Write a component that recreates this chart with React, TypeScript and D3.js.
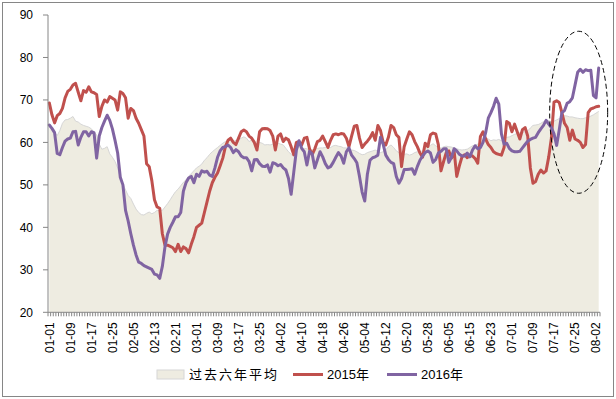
import { useRef, useEffect } from 'react'
import * as d3 from 'd3'

// past six years average (area)
const avgData = [
  64.1, 63.5, 62.5, 61.6, 62.8, 64.5, 65.3, 65.4, 65.7, 66.1,
  65.0, 64.8, 64.3, 64.0, 63.8, 63.6, 63.2, 62.4, 61.8, 59.6,
  58.4, 58.6, 59.0, 57.3, 56.5, 55.5, 54.0, 51.8, 50.2, 48.8,
  47.5, 46.8, 45.5, 44.3, 43.5, 43.0, 42.9, 43.3, 43.6, 43.2,
  43.5, 44.0, 44.1, 44.0, 44.8, 45.6, 46.5, 47.5, 48.4, 49.0,
  49.8, 50.6, 51.2, 52.0, 52.7, 53.3, 54.0, 54.4, 54.9, 55.8,
  56.4, 57.2, 57.8, 58.3, 58.8, 59.3, 59.8, 60.2, 60.5, 60.6,
  60.2, 60.5, 60.6, 61.0, 61.3, 61.0, 60.2, 60.6, 60.0, 59.4,
  60.0, 59.8, 59.4, 59.5, 59.4, 59.6, 59.8, 59.8, 59.6, 59.4,
  58.6, 57.8, 57.2, 56.6, 58.2, 59.0, 58.8, 58.6, 58.5, 58.3,
  58.2, 58.4, 58.6, 58.7, 58.7, 58.8, 59.0, 58.8, 59.2, 59.3,
  59.1, 59.0, 58.7, 58.7, 58.5, 58.2, 58.1, 57.8, 57.4, 57.1,
  57.2, 57.6, 57.8, 58.0, 58.2, 57.9, 57.6, 57.8, 58.2, 59.0,
  59.4, 58.8, 58.0, 57.6, 57.4, 57.2, 57.3, 57.0, 57.2, 57.6,
  57.8, 57.8, 58.0, 58.5, 59.0, 59.3, 59.7, 59.2, 58.8, 58.6,
  59.0, 59.1, 59.0, 58.9, 58.7, 58.5, 58.3, 58.2, 58.3, 58.4,
  58.8, 59.2, 59.4, 59.6, 59.8, 60.5, 61.2, 60.8, 60.4, 60.6,
  60.5, 60.7, 60.4, 60.8, 61.2, 61.3, 61.6, 61.9, 62.1, 62.3,
  62.4, 62.5, 62.7, 63.4, 64.0, 64.1, 64.2, 64.5, 64.9, 65.2,
  65.1, 64.9, 65.0, 65.3, 65.6, 66.0, 66.3, 66.2, 66.0, 66.0,
  65.8, 65.7, 65.6, 65.6, 65.8, 65.9, 66.2, 66.5, 66.9, 67.3
]

const data2015 = [
  69.3, 66.5, 64.6, 66.3, 66.8, 68.0, 70.5, 72.0, 72.5, 73.5,
  73.9, 71.8, 69.8, 72.2, 71.8, 73.1, 71.9, 71.7, 71.3, 66.1,
  68.5, 70.0, 69.5, 70.8, 70.4, 70.0, 67.6, 71.9, 71.5, 70.5,
  65.7, 68.0, 67.5, 65.7, 64.5, 63.0, 61.5, 55.0, 54.3, 51.0,
  46.5, 44.8, 44.5, 38.5, 35.8, 35.8, 35.5, 35.2, 34.3, 36.0,
  34.3, 35.4, 35.0, 34.0, 36.0, 37.8, 40.0, 40.5, 41.0, 43.5,
  46.0, 48.5, 50.5, 51.8, 52.8, 54.5, 56.3, 59.0, 60.5, 61.0,
  60.0, 59.5, 61.0, 62.5, 62.9, 62.5, 61.5, 61.0, 60.0, 58.2,
  62.5, 63.2, 63.3, 63.2, 62.8, 61.5, 58.2, 61.5, 62.0, 60.2,
  61.0, 60.6, 59.0, 57.1, 60.0, 60.2, 59.4, 61.0, 61.2, 58.5,
  57.1, 58.5, 60.2, 60.5, 61.5, 60.2, 58.8, 60.5, 61.8, 62.0,
  61.8, 62.1, 62.0, 61.0, 59.0, 61.5, 63.8, 64.0, 61.0, 58.8,
  59.6, 60.3, 61.1, 62.3, 60.5, 64.0, 62.8, 60.0, 59.4, 61.2,
  64.0, 63.5, 61.8, 61.2, 54.3, 59.0, 60.8, 62.5, 61.8, 60.2,
  59.0, 57.5, 56.5, 59.8, 59.0, 61.8, 62.2, 62.0, 59.5, 53.3,
  55.5, 57.6, 58.0, 56.3, 58.0, 52.0, 54.5, 56.6, 57.1, 56.4,
  57.0, 56.8, 56.2, 55.1, 61.4, 62.5, 60.8, 59.5, 58.8, 57.8,
  57.4, 57.2, 57.0, 58.8, 64.9, 64.5, 62.5, 64.3, 62.5, 60.8,
  63.0, 63.5, 61.5, 54.0, 50.4, 50.8, 52.5, 53.5, 52.8, 53.3,
  56.6, 61.0, 69.5, 69.8, 69.4, 67.0, 64.5, 63.5, 60.5, 62.9,
  60.8, 60.5, 60.0, 58.8, 59.5, 67.0, 67.9, 68.1, 68.4, 68.5
]

const data2016 = [
  64.1, 63.3, 62.3, 57.4, 57.1, 58.8, 60.3, 60.8, 61.0, 62.5,
  62.6, 59.4, 61.2, 62.5, 62.5, 61.5, 62.5, 62.3, 56.3, 61.5,
  63.5, 65.0, 66.4, 65.2, 63.2, 60.5, 57.5, 51.8, 50.0, 44.0,
  41.5, 38.5, 35.8, 33.5, 31.8, 31.5, 31.0, 30.7, 30.4, 30.1,
  29.0, 28.8, 28.0, 30.8, 35.4, 38.4, 40.0, 41.2, 42.5, 42.5,
  43.5, 48.5, 50.5, 51.6, 52.0, 50.5, 52.5, 52.0, 53.3, 53.0,
  53.2, 52.3, 52.0, 54.0, 56.5, 58.0, 58.8, 59.0, 59.4, 58.8,
  57.6, 58.3, 57.8, 56.8, 56.4, 56.4, 55.5, 53.3, 55.9, 56.0,
  55.0, 54.4, 54.3, 54.7, 53.0, 55.2, 55.0, 54.5, 54.8, 54.0,
  53.5, 51.5, 47.8, 53.0, 58.2, 60.4, 58.6, 57.8, 54.7, 57.9,
  57.3, 54.0, 55.9, 57.8, 56.6, 55.0, 54.0, 54.3, 55.3, 56.5,
  57.6, 56.8, 55.1, 57.8, 58.7, 57.0, 56.2, 55.2, 52.0, 48.3,
  46.2, 52.5, 55.8, 56.4, 56.6, 57.0, 61.2, 59.6, 57.0, 56.0,
  55.3, 55.0, 52.0, 50.4, 51.5, 53.6, 53.6, 53.7, 53.8, 52.5,
  54.3, 55.8, 56.8, 57.6, 58.0, 57.5, 55.3, 56.0, 57.5, 57.9,
  58.5, 58.5, 55.3, 56.5, 58.5, 58.0, 57.2, 56.8, 56.8, 57.5,
  56.6, 58.2, 59.2, 58.5, 58.8, 60.0, 62.3, 65.7, 67.0, 68.5,
  70.4, 69.0, 62.0, 59.6, 59.8, 58.6, 58.0, 57.8, 57.8, 57.9,
  58.7, 59.5, 60.3, 60.7, 61.0, 61.2, 62.3, 63.2, 64.0, 65.2,
  64.3, 63.5, 62.0, 59.3, 63.0, 67.0, 67.5, 69.2, 69.6, 70.5,
  73.5, 76.5, 77.2, 76.5, 77.1, 76.9, 77.0, 71.0, 70.5, 77.5
]

const tickLabels = [
  '01-01', '01-09', '01-17', '01-25', '02-05', '02-13', '02-21', '03-01', '03-09',
  '03-17', '03-25', '04-02', '04-10', '04-18', '04-26', '05-04', '05-12', '05-20',
  '05-28', '06-05', '06-15', '06-23', '07-01', '07-09', '07-17', '07-25', '08-02'
]
const labelEvery = 8

const yTicks = [20, 30, 40, 50, 60, 70, 80, 90]

const seriesNames = ['过去六年平均', '2015年', '2016年']
const seriesColors = ['#EEECE1', '#C0504D', '#8064A2']

const FONT = '"Liberation Sans", Arial, "Noto Sans CJK SC", sans-serif'

const App = () => {
  const ref = useRef(null)

  useEffect(() => {
    // MARGIN CONVENTION
    const totalWidth = 616,
      totalHeight = 399,
      margin = { left: 48, top: 15, right: 16, bottom: 86.7 },
      width = totalWidth - margin.left - margin.right,
      height = totalHeight - margin.top - margin.bottom

    const svg = d3.select(ref.current)
    svg.attr('width', totalWidth).attr('height', totalHeight)
    svg.selectAll('*').remove()

    svg.append('rect')
      .attr('width', totalWidth).attr('height', totalHeight)
      .attr('fill', '#fff')

    // chart border
    svg.append('rect')
      .attr('x', 2.5).attr('y', 2.5)
      .attr('width', totalWidth - 5).attr('height', totalHeight - 5)
      .attr('fill', 'none')
      .attr('stroke', '#868686')

    const n = avgData.length
    const x = d3.scaleBand()
      .domain(d3.range(n))
      .range([0, width])
    const bw = x.bandwidth()
    const cx = i => x(i) + bw / 2

    const y = d3.scaleLinear()
      .domain([20, 90])
      .range([height, 0])

    const plot = svg.append('g')
      .attr('transform', `translate(${margin.left}, ${margin.top})`)

    // AREA - past six years average
    plot.append('path')
      .datum(avgData)
      .attr('fill', seriesColors[0])
      .attr('d', d3.area()
        .x((d, i) => cx(i))
        .y0(height)
        .y1(d => y(d)))

    plot.append('path')
      .datum(avgData)
      .attr('fill', 'none')
      .attr('stroke', '#D6D6D6')
      .attr('stroke-width', 1)
      .attr('d', d3.line()
        .x((d, i) => cx(i))
        .y(d => y(d)))

    // LINES
    const line = d3.line()
      .x((d, i) => cx(i))
      .y(d => y(d))

    ;[data2015, data2016].forEach((series, k) => {
      plot.append('path')
        .datum(series)
        .attr('fill', 'none')
        .attr('stroke', seriesColors[k + 1])
        .attr('stroke-width', 3)
        .attr('stroke-linejoin', 'round')
        .attr('stroke-linecap', 'round')
        .attr('d', line)
    })

    // AXES
    const axisColor = '#868686'

    // y axis
    plot.append('line')
      .attr('x1', 0).attr('x2', 0)
      .attr('y1', 0).attr('y2', height)
      .attr('stroke', axisColor)
    yTicks.forEach(t => {
      plot.append('line')
        .attr('x1', -5).attr('x2', 0)
        .attr('y1', y(t)).attr('y2', y(t))
        .attr('stroke', axisColor)
      plot.append('text')
        .attr('x', -15)
        .attr('y', y(t))
        .attr('dy', '0.35em')
        .attr('text-anchor', 'end')
        .attr('font-family', FONT)
        .attr('font-size', 12)
        .attr('fill', '#000')
        .text(t)
    })

    // x axis
    plot.append('line')
      .attr('x1', 0).attr('x2', width)
      .attr('y1', height).attr('y2', height)
      .attr('stroke', axisColor)
    d3.range(n + 1).forEach(i => {
      const xp = i < n ? x(i) : width
      plot.append('line')
        .attr('x1', xp).attr('x2', xp)
        .attr('y1', height).attr('y2', height + 4)
        .attr('stroke', axisColor)
    })
    tickLabels.forEach((label, j) => {
      const xp = cx(j * labelEvery)
      plot.append('text')
        .attr('transform', `translate(${xp}, ${height + 10}) rotate(-90)`)
        .attr('dy', '0.35em')
        .attr('text-anchor', 'end')
        .attr('font-family', FONT)
        .attr('font-size', 12)
        .attr('fill', '#000')
        .text(label)
    })

    // dashed ellipse annotation round the recent peak
    plot.append('ellipse')
      .attr('cx', cx(201) + 1)
      .attr('cy', y(67.1))
      .attr('rx', 29)
      .attr('ry', 81)
      .attr('fill', 'none')
      .attr('stroke', '#000')
      .attr('stroke-width', 1)
      .attr('stroke-dasharray', '5,3')

    // LEGEND
    const legend = svg.append('g')
      .attr('font-family', FONT)
      .attr('font-size', 13)
      .attr('fill', '#000')
    const ly = 374.5

    legend.append('rect')
      .attr('x', 157).attr('y', ly - 4.5)
      .attr('width', 27).attr('height', 9)
      .attr('fill', seriesColors[0])
      .attr('stroke', '#D6D6D6')
    legend.append('text')
      .attr('x', 189).attr('y', ly)
      .attr('dy', '0.35em')
      .attr('textLength', 88)
      .attr('lengthAdjust', 'spacing')
      .text(seriesNames[0])

    const lineItems = [[293, 327], [387, 421]]
    lineItems.forEach(([lx, tx], k) => {
      legend.append('line')
        .attr('x1', lx).attr('x2', lx + 30)
        .attr('y1', ly).attr('y2', ly)
        .attr('stroke', seriesColors[k + 1])
        .attr('stroke-width', 3)
      legend.append('text')
        .attr('x', tx).attr('y', ly)
        .attr('dy', '0.35em')
        .text(seriesNames[k + 1])
    })
  }, [])

  return (
    <svg ref={ ref } style={ { position: 'absolute', left: 0, top: 0 } }></svg>
  )
}

export default App
